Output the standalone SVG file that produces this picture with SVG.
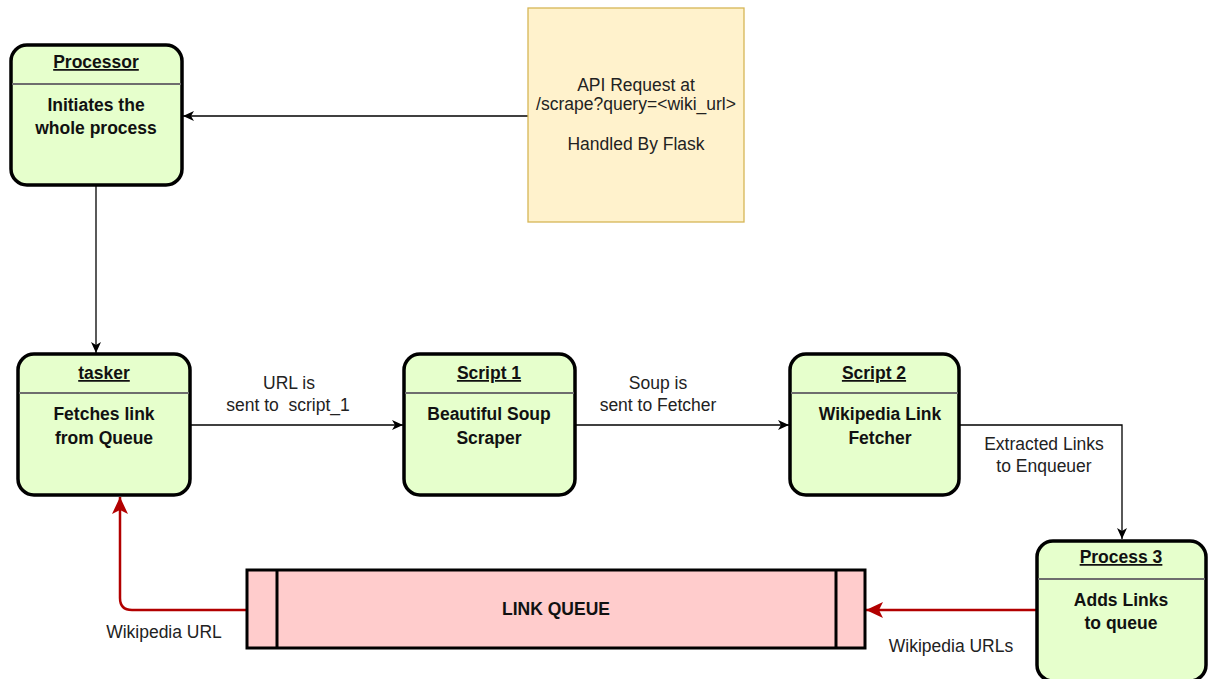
<svg xmlns="http://www.w3.org/2000/svg" width="1209" height="679" viewBox="0 0 1209 679">
<style>
.box{fill:#e6ffcc;stroke:#000;stroke-width:3.5}
.sep{stroke:#6e6e6e;stroke-width:2}
.t{font-family:"Liberation Sans",Arial,sans-serif;font-size:17.5px;font-weight:bold;text-anchor:middle;fill:#111}
.u{text-decoration:underline}
.lbl{font-family:"Liberation Sans",Arial,sans-serif;font-size:17.5px;text-anchor:middle;fill:#222}
.c{fill:none;stroke:#000;stroke-width:1.3}
.r{fill:none;stroke:#b20000;stroke-width:2.5}
</style>
<defs>
<marker id="ab" markerUnits="userSpaceOnUse" markerWidth="12" markerHeight="12" refX="11" refY="5" orient="auto"><path d="M0,0 L11,5 L0,10 L3,5 Z" fill="#000"/></marker>
<marker id="ar" markerUnits="userSpaceOnUse" markerWidth="20" markerHeight="20" refX="17" refY="8" orient="auto"><path d="M0,0 L17,8 L0,16 L4,8 Z" fill="#b20000"/></marker>
</defs>
<rect width="1209" height="679" fill="#fff"/>
<g id="connectors">
<line class="c" x1="528" y1="116" x2="183" y2="116" marker-end="url(#ab)"/>
<line class="c" x1="96" y1="186" x2="96" y2="353" marker-end="url(#ab)"/>
<line class="c" x1="191" y1="425" x2="403" y2="425" marker-end="url(#ab)"/>
<line class="c" x1="576" y1="425" x2="789" y2="425" marker-end="url(#ab)"/>
<path class="c" d="M960,425 L1122,425 L1122,539" marker-end="url(#ab)"/>
<line class="r" x1="1036" y1="610" x2="866" y2="610" marker-end="url(#ar)"/>
<path class="r" d="M247,610 L132,610 Q120,610 120,598 L120,497" marker-end="url(#ar)"/>
<text class="lbl" x="289" y="389">URL is</text>
<text class="lbl" x="288" y="411" xml:space="preserve">sent to  script_1</text>
<text class="lbl" x="658" y="389">Soup is</text>
<text class="lbl" x="658" y="411">sent to Fetcher</text>
<text class="lbl" x="1044" y="450">Extracted Links</text>
<text class="lbl" x="1044" y="472">to Enqueuer</text>
<text class="lbl" x="164" y="638">Wikipedia URL</text>
<text class="lbl" x="951" y="652">Wikipedia URLs</text>
</g>
<g id="api">
<rect x="528" y="8" width="216" height="214" fill="#fff2cc" stroke="#d6b656" stroke-width="1.3"/>
<text class="lbl" x="636" y="91">API Request at</text>
<text class="lbl" x="636" y="110">/scrape?query=&lt;wiki_url&gt;</text>
<text class="lbl" x="636" y="150">Handled By Flask</text>
</g>
<g id="processor">
<rect class="box" x="11" y="45" width="171" height="140" rx="16"/>
<line class="sep" x1="12" y1="84" x2="181" y2="84"/>
<text class="t u" x="96" y="68">Processor</text>
<text class="t" x="96" y="111">Initiates the</text>
<text class="t" x="96" y="134">whole process</text>
</g>
<g id="tasker">
<rect class="box" x="18" y="354" width="172" height="141" rx="16"/>
<line class="sep" x1="19" y1="393" x2="189" y2="393"/>
<text class="t u" x="104" y="379">tasker</text>
<text class="t" x="104" y="420">Fetches link</text>
<text class="t" x="104" y="444">from Queue</text>
</g>
<g id="script1">
<rect class="box" x="404" y="354" width="171" height="141" rx="16"/>
<line class="sep" x1="405" y1="393" x2="574" y2="393"/>
<text class="t u" x="489" y="379">Script 1</text>
<text class="t" x="489" y="420">Beautiful Soup</text>
<text class="t" x="489" y="444">Scraper</text>
</g>
<g id="script2">
<rect class="box" x="790" y="354" width="169" height="141" rx="16"/>
<line class="sep" x1="791" y1="393" x2="958" y2="393"/>
<text class="t u" x="874" y="379">Script 2</text>
<text class="t" x="880" y="420">Wikipedia Link</text>
<text class="t" x="880" y="444">Fetcher</text>
</g>
<g id="process3">
<rect class="box" x="1037" y="541" width="169" height="140" rx="16"/>
<line class="sep" x1="1038" y1="579" x2="1205" y2="579"/>
<text class="t u" x="1121" y="563">Process 3</text>
<text class="t" x="1121" y="606">Adds Links</text>
<text class="t" x="1121" y="629">to queue</text>
</g>
<g id="linkqueue">
<rect x="247" y="570" width="618" height="78" fill="#ffcccc" stroke="#000" stroke-width="3"/>
<line x1="277" y1="570" x2="277" y2="648" stroke="#000" stroke-width="3"/>
<line x1="836" y1="570" x2="836" y2="648" stroke="#000" stroke-width="3"/>
<text class="t" x="556" y="615">LINK QUEUE</text>
</g>
</svg>
